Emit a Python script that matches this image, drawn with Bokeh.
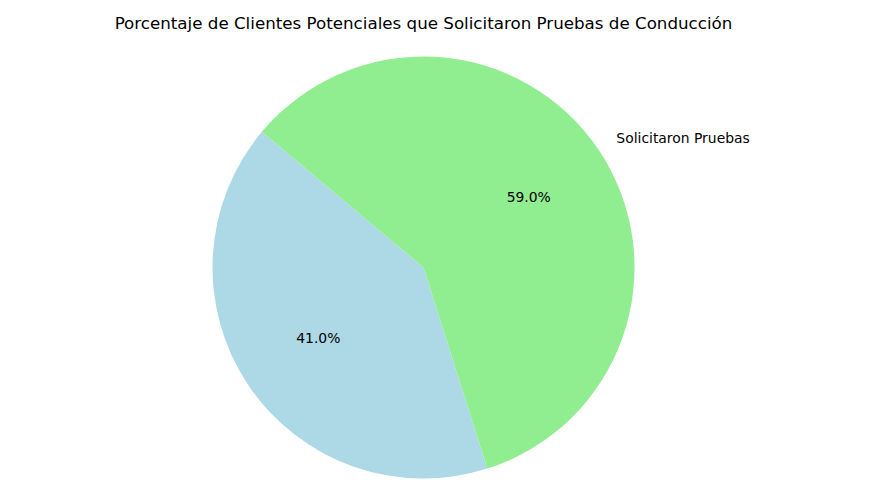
import numpy as np
from bokeh.plotting import figure
from bokeh.models import Range1d, ColumnDataSource
from bokeh.core.properties import value
from bokeh.embed import file_html
from bokeh.resources import INLINE

title = "Porcentaje de Clientes Potenciales que Solicitaron Pruebas de Conducción"
categories = ["No Solicitaron Pruebas", "Solicitaron Pruebas"]
shown_labels = ["", "Solicitaron Pruebas"]
values = [41.0, 59.0]
colors = ["#add8e6", "#90ee90"]
start_deg = 140.0

W, H = 873, 485
scale = 211.0          # pixels per unit radius
cx, cy = 423.0, 267.0  # pie centre in figure pixels (from top-left)

p = figure(width=W, height=H, output_backend="svg", toolbar_location=None,
           x_range=Range1d(-cx / scale, (W - cx) / scale),
           y_range=Range1d(-(H - cy) / scale, cy / scale),
           min_border=0)
p.axis.visible = False
p.grid.visible = False
p.outline_line_color = None
p.background_fill_color = "white"
p.border_fill_color = "white"

vals = np.array(values)
frac = vals / vals.sum()
ends = np.deg2rad(start_deg) + 2 * np.pi * np.cumsum(frac)
starts = np.concatenate([[np.deg2rad(start_deg)], ends[:-1]])
mids = (starts + ends) / 2

src = ColumnDataSource(dict(start=starts, end=ends, color=colors, cat=categories,
                            mx=1.1 * np.cos(mids), my=1.1 * np.sin(mids),
                            px=0.6 * np.cos(mids), py=0.6 * np.sin(mids),
                            lab=shown_labels,
                            pct=["%.1f%%" % (f * 100) for f in frac],
                            align=["right" if np.cos(m) < 0 else "left" for m in mids]))

p.wedge(x=0, y=0, radius=1.0, start_angle="start", end_angle="end",
        direction="anticlock", fill_color="color", line_color=None, source=src)

p.text(x="mx", y="my", text="lab", source=src, text_align="align",
       text_baseline="middle", text_font=value("DejaVu Sans"),
       text_font_size="13.9px", text_color="black")
p.text(x="px", y="py", text="pct", source=src, text_align="center",
       text_baseline="middle", text_font=value("DejaVu Sans"),
       text_font_size="13.9px", text_color="black")

# title
p.text(x=[0.0], y=[(cy - 22) / scale], text=[title],
       text_align="center", text_baseline="middle",
       text_font=value("DejaVu Sans"), text_font_size="16.7px", text_color="black")

open("out.html", "w").write(file_html(p, INLINE))
